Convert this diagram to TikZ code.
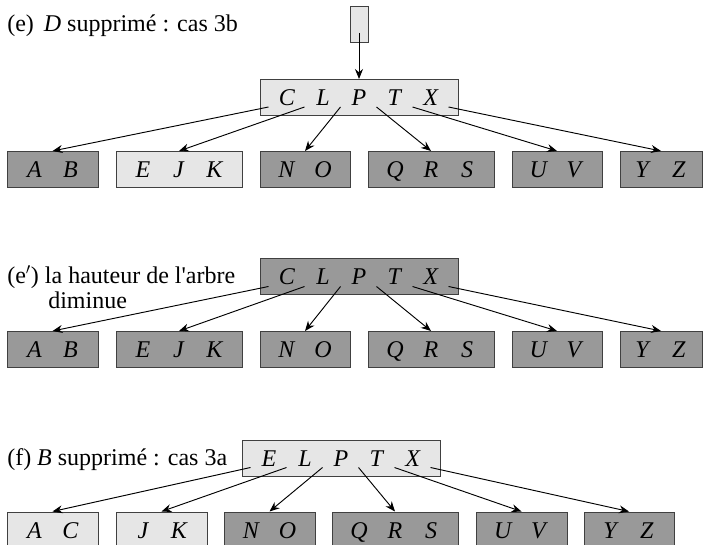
\documentclass[tikz,border=0pt]{standalone}
\usepackage{fontspec}
\newfontfamily\tm{Liberation Serif}
\usetikzlibrary{arrows.meta,calc}
\newdimen\pxu \pxu=0.75pt
\newcommand{\kk}[1]{\makebox[36\pxu]{\textit{#1}}}
\definecolor{lightg}{HTML}{E6E6E6}
\definecolor{darkg}{HTML}{999999}
\definecolor{edgeg}{HTML}{404040}
\tikzset{
  keybox/.style={draw=edgeg, line width=0.75pt, inner sep=0pt, minimum height=36\pxu,
    text height=12pt, text depth=0pt},
  lightbox/.style={keybox, fill=lightg},
  darkbox/.style={keybox, fill=darkg},
  ptr/.style={line width=0.7pt, -{Stealth[length=7.5pt,width=6pt,inset=2.5pt]}},
  lbl/.style={anchor=base west, inner sep=0pt},
}
\begin{document}
\begin{tikzpicture}[x=0.75pt,y=-0.75pt, font=\tm\fontsize{18}{21}\selectfont]
\useasboundingbox (0,0) rectangle (703,545);
\clip (0,0) rectangle (703,545);
\fill[white] (0,0) rectangle (703,545);

% ---------- (e) ----------
\node[lbl] (le) at (7,32) {(e)\hspace{10\pxu}\textit{D} supprimé : cas 3b};
\node[lightbox, minimum width=18\pxu] (top) at (359,25) {};
\node[lightbox, minimum width=198\pxu] (re) at (359,97.5) {\kk{C}\kk{L}\kk{P}\kk{T}\kk{X}};
\node[darkbox, minimum width=91\pxu] (eab) at (52.5,169.5) {\kk{A}\kk{B}};
\node[lightbox, minimum width=126\pxu] (eejk) at (179,169.5) {\kk{E}\kk{J}\kk{K}};
\node[darkbox, minimum width=90\pxu] (eno) at (305,169.5) {\kk{N}\kk{O}};
\node[darkbox, minimum width=126\pxu] (eqrs) at (431,169.5) {\kk{Q}\kk{R}\kk{S}};
\node[darkbox, minimum width=90\pxu] (euv) at (557,169.5) {\kk{U}\kk{V}};
\node[darkbox, minimum width=82\pxu] (eyz) at (661,169.5) {\kk{Y}\kk{Z}};
\draw[ptr] ($(top.center)+(0,8)$) -- (re.north);
\foreach \c [count=\k from 0] in {eab,eejk,eno,eqrs,euv,eyz}
  \draw[ptr] ($(re.south west)+(9+36*\k,-9)$) -- (\c.north);

% ---------- (e') ----------
\node[lbl] (lm1) at (7,283) {(e$'$) la hauteur de l'arbre};
\node[lbl] (lm2) at (48,308) {diminue};
\node[darkbox, minimum width=198\pxu] (rm) at (359,277) {\kk{C}\kk{L}\kk{P}\kk{T}\kk{X}};
\node[darkbox, minimum width=91\pxu] (mab) at (52.5,349.5) {\kk{A}\kk{B}};
\node[darkbox, minimum width=126\pxu] (mejk) at (179,349.5) {\kk{E}\kk{J}\kk{K}};
\node[darkbox, minimum width=90\pxu] (mno) at (305,349.5) {\kk{N}\kk{O}};
\node[darkbox, minimum width=126\pxu] (mqrs) at (431,349.5) {\kk{Q}\kk{R}\kk{S}};
\node[darkbox, minimum width=90\pxu] (muv) at (557,349.5) {\kk{U}\kk{V}};
\node[darkbox, minimum width=82\pxu] (myz) at (661,349.5) {\kk{Y}\kk{Z}};
\foreach \c [count=\k from 0] in {mab,mejk,mno,mqrs,muv,myz}
  \draw[ptr] ($(rm.south west)+(9+36*\k,-9)$) -- (\c.north);

% ---------- (f) ----------
\node[lbl] (lf) at (7,465) {(f) \textit{B} supprimé : cas 3a};
\node[lightbox, minimum width=198\pxu] (rf) at (341,458) {\kk{E}\kk{L}\kk{P}\kk{T}\kk{X}};
\node[lightbox, minimum width=91\pxu] (fac) at (52.5,530) {\kk{A}\kk{C}};
\node[lightbox, minimum width=91\pxu] (fjk) at (161.5,530) {\kk{J}\kk{K}};
\node[darkbox, minimum width=91\pxu] (fno) at (269.5,530) {\kk{N}\kk{O}};
\node[darkbox, minimum width=126\pxu] (fqrs) at (395,530) {\kk{Q}\kk{R}\kk{S}};
\node[darkbox, minimum width=91\pxu] (fuv) at (521.5,530) {\kk{U}\kk{V}};
\node[darkbox, minimum width=90\pxu] (fyz) at (629,530) {\kk{Y}\kk{Z}};
\foreach \c [count=\k from 0] in {fac,fjk,fno,fqrs,fuv,fyz}
  \draw[ptr] ($(rf.south west)+(9+36*\k,-9)$) -- (\c.north);
\end{tikzpicture}
\end{document}
